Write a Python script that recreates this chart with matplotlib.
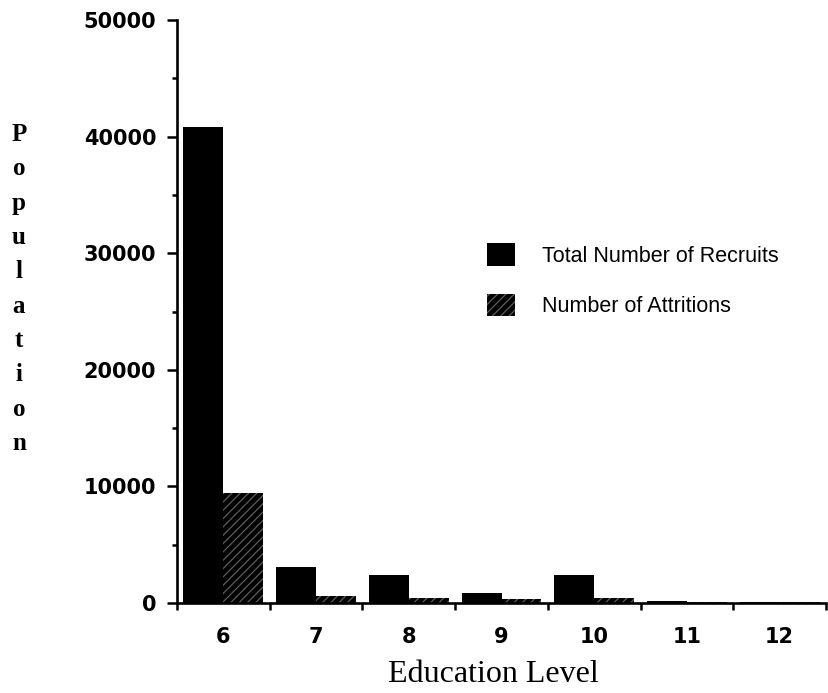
import matplotlib
matplotlib.use("Agg")
import matplotlib.pyplot as plt
import numpy as np
from matplotlib.patches import Patch

# values
levels = ["6", "7", "8", "9", "10", "11", "12"]
recruits = [40800, 3100, 2400, 830, 2400, 150, 80]
attritions = [9450, 600, 450, 300, 400, 100, 50]
series = ["Total Number of Recruits", "Number of Attritions"]
yticks = [0, 10000, 20000, 30000, 40000, 50000]

plt.rcParams["hatch.linewidth"] = 0.9
HATCH_COL = "#5e5e5e"

fig = plt.figure(figsize=(8.29, 6.93), dpi=100)
ax = fig.add_axes([0.2135, 0.1299, 0.7829, 0.8412])

x = np.arange(len(levels))
w = 0.43
ax.bar(x - w / 2, recruits, w, color="black", linewidth=0)
ax.bar(x + w / 2, attritions, w, color="black", edgecolor=HATCH_COL,
       hatch="////", linewidth=0)

ax.set_xlim(-0.5, len(levels) - 0.5)
ax.set_ylim(0, 50000)
for s in ["top", "right"]:
    ax.spines[s].set_visible(False)
for s in ["left", "bottom"]:
    ax.spines[s].set_linewidth(1.9)

tick_font = dict(family="DejaVu Sans", weight="bold", size=15)
ax.set_yticks(yticks)
ax.set_yticklabels([str(v) for v in yticks], **tick_font)
ax.set_yticks(np.arange(5000, 50000, 10000), minor=True)
ax.tick_params(axis="y", which="major", direction="out", length=7, width=1.8, pad=8)
ax.tick_params(axis="y", which="minor", direction="out", length=3.5, width=1.8)

ax.set_xticks(x)
ax.set_xticklabels(levels, **tick_font)
ax.set_xticks(np.arange(-0.5, len(levels), 1.0), minor=True)
ax.tick_params(axis="x", which="major", length=0, pad=17)
ax.tick_params(axis="x", which="minor", direction="out", length=5, width=1.8)

fig.text(493 / 829, 1 - 674 / 693, "Education Level", family="Liberation Serif",
         size=23, ha="center", va="center")
fig.text(19 / 829, 1 - 289 / 693, "\n".join("Population"), family="Liberation Serif",
         weight="bold", size=18, ha="center", va="center", linespacing=1.63)

handles = [Patch(facecolor="black", linewidth=0),
           Patch(facecolor="black", edgecolor=HATCH_COL, hatch="////", linewidth=0)]
ax.legend(handles, series, loc="upper left", bbox_to_anchor=(487 / 829, 1 - 243 / 693),
          bbox_transform=fig.transFigure, frameon=False, borderpad=0, borderaxespad=0,
          handlelength=1.3, handleheight=1.25, handletextpad=1.25, labelspacing=1.25,
          prop=dict(family="Liberation Sans", size=15.5))

fig.savefig("out.png", dpi=100)
